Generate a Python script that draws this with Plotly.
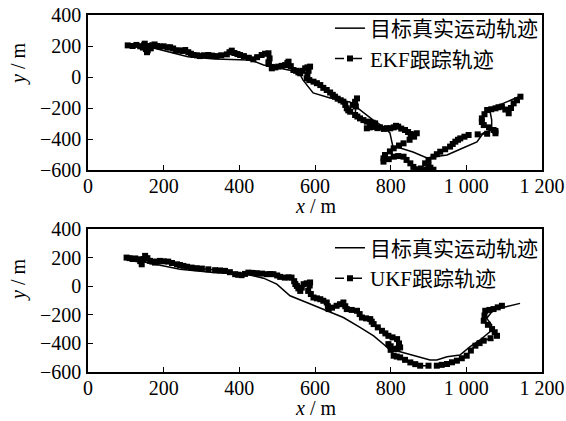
import plotly.graph_objects as go
from plotly.subplots import make_subplots

# ---------------- data ----------------
true_top_x = [100, 141, 160, 200, 264, 335, 423, 437, 464, 508, 552, 562, 568, 595, 640, 692, 719, 753, 780,
              798, 806, 825, 859, 896, 912, 949, 991, 1028, 1045, 1067, 1067, 1063, 1076, 1137]
true_top_y = [202, 211, 195, 170, 131, 116, 110, 103, 77, 56, 34, 10, -19, -103, -135, -161, -213, -277, -320,
              -361, -451, -458, -484, -522, -516, -503, -458, -419, -361, -342, -277, -225, -193, -129]

ekf_x = [105, 118, 128, 138, 145, 148, 150, 153, 156, 158, 160, 163, 166, 170, 176, 183, 190, 200, 210, 217,
         225, 232, 240, 250, 257, 265, 272, 279, 288, 296, 306, 318, 328, 340, 352, 367, 374, 380, 387, 395,
         402, 412, 425, 437, 447, 459, 468, 477, 480, 477, 478, 486, 486, 495, 503, 512, 521, 527, 530, 536,
         543, 550, 556, 561, 566, 574, 580, 587, 583, 580, 578, 585, 596, 605, 614, 622, 631, 640, 647, 653,
         660, 668, 675, 680, 684, 688, 693, 700, 706, 711, 708, 706, 712, 719, 728, 737, 745, 752, 759, 750,
         737, 745, 755, 765, 772, 782, 790, 799, 808, 814, 820, 828, 838, 846, 853, 860, 869, 862, 850, 834,
         822, 808, 798, 785, 781, 781, 795, 808, 820, 834, 842, 852, 860, 869, 880, 896, 905, 913, 900, 891,
         900, 913, 922, 931, 944, 957, 964, 971, 978, 984, 995, 1006, 1030, 1055, 1077, 1077, 1072, 1060, 1046, 1041,
         1041, 1048, 1055, 1066, 1077, 1085, 1094, 1103, 1112, 1118, 1125, 1134, 1143]
ekf_y = [204, 200, 207, 198, 190, 205, 215, 180, 160, 172, 192, 200, 185, 205, 210, 200, 196, 198, 190, 192,
         184, 170, 172, 168, 174, 160, 150, 142, 140, 135, 140, 142, 138, 135, 140, 146, 160, 170, 155, 148,
         142, 135, 124, 114, 128, 142, 150, 153, 120, 95, 84, 65, 56, 62, 67, 72, 77, 90, 99, 70,
         45, 40, 30, 24, 40, 56, 62, 67, 40, 15, -9, -20, -30, -40, -52, -70, -84, -100, -115, -127,
         -140, -150, -159, -180, -202, -215, -224, -180, -160, -138, -190, -245, -255, -267, -278, -288, -290, -295, -299, -315,
         -331, -325, -322, -330, -325, -335, -330, -331, -325, -315, -320, -333, -342, -355, -368, -374, -363, -385, -405, -428,
         -442, -460, -480, -503, -525, -546, -530, -514, -510, -514, -535, -557, -580, -595, -590, -598, -585, -598, -570, -557,
         -535, -514, -498, -482, -466, -449, -432, -417, -405, -396, -385, -374, -370, -366, -363, -348, -342, -325, -310, -290,
         -267, -240, -213, -208, -202, -195, -191, -210, -234, -200, -170, -150, -127]

true_bot_x = [100, 155, 243, 331, 420, 464, 499, 534, 578, 622, 675, 719, 755, 786, 798, 825, 859, 904, 922,
              949, 983, 1010, 1036, 1063, 1067, 1054, 1071, 1142]
true_bot_y = [200, 165, 119, 95, 84, 56, 14, -67, -114, -160, -219, -288, -347, -416, -446, -458, -481, -516, -516,
              -493, -481, -423, -376, -318, -271, -225, -166, -120]

ukf_x = [102, 110, 118, 125, 133, 138, 142, 147, 151, 157, 164, 170, 177, 184, 190, 200, 212, 222, 235, 243,
         252, 262, 274, 287, 301, 318, 336, 349, 362, 375, 389, 397, 406, 415, 424, 435, 446, 460, 473, 482,
         490, 500, 508, 520, 530, 538, 545, 548, 552, 556, 561, 565, 570, 578, 587, 586, 582, 589, 596, 605,
         614, 622, 631, 634, 636, 645, 657, 666, 675, 680, 684, 697, 711, 718, 724, 735, 746, 750, 755, 766,
         777, 786, 794, 805, 817, 822, 825, 818, 812, 800, 794, 800, 808, 816, 825, 838, 852, 865, 878, 900,
         922, 935, 949, 962, 975, 988, 1001, 1012, 1024, 1035, 1046, 1064, 1081, 1075, 1068, 1057, 1046, 1048, 1050, 1061,
         1072, 1083, 1094]
ukf_y = [200, 196, 190, 194, 188, 175, 153, 190, 212, 196, 177, 172, 165, 172, 177, 174, 172, 162, 153, 148,
         142, 136, 130, 126, 123, 118, 112, 110, 107, 98, 84, 80, 77, 86, 95, 93, 91, 88, 84, 85,
         84, 75, 65, 60, 62, 60, 35, 15, 2, -15, -33, -10, 14, 20, 26, 5, -33, -55, -79, -85,
         -91, -102, -114, -140, -160, -150, -137, -126, -114, -140, -160, -166, -172, -195, -219, -225, -230, -248, -265, -288,
         -312, -330, -347, -358, -370, -400, -428, -436, -440, -420, -405, -445, -486, -492, -498, -515, -533, -545, -556, -556,
         -556, -550, -544, -532, -521, -504, -486, -450, -416, -398, -381, -364, -347, -322, -300, -270, -242, -205, -172, -166,
         -160, -148, -137]

x_tickvals = [0, 200, 400, 600, 800, 1000, 1200]
x_ticktext = ["0", "200", "400", "600", "800", "1 000", "1 200"]
y_tickvals = [400, 200, 0, -200, -400, -600]
y_ticktext = ["400", "200", "0", "\u2212200", "\u2212400", "\u2212600"]

true_name = "目标真实运动轨迹"
ekf_name = "EKF跟踪轨迹"
ukf_name = "UKF跟踪轨迹"
x_title = "<i>x</i> / m"
y_title = "<i>y</i> / m"

# ---------------- figure ----------------
FONT = "Liberation Serif, Times New Roman, Noto Sans CJK SC, serif"
fig = make_subplots(rows=2, cols=1, vertical_spacing=0.0)

line_true = dict(color="black", width=1.5)
line_est = dict(color="black", width=1.5, dash="dash")
mk = dict(symbol="square", size=6, color="black")

fig.add_trace(go.Scatter(x=true_top_x, y=true_top_y, mode="lines", line=line_true,
                         name=true_name, legend="legend"), row=1, col=1)
fig.add_trace(go.Scatter(x=ekf_x, y=ekf_y, mode="lines+markers", line=line_est, marker=mk,
                         name=ekf_name, legend="legend"), row=1, col=1)
fig.add_trace(go.Scatter(x=true_bot_x, y=true_bot_y, mode="lines", line=line_true,
                         name=true_name, legend="legend2"), row=2, col=1)
fig.add_trace(go.Scatter(x=ukf_x, y=ukf_y, mode="lines+markers", line=line_est, marker=mk,
                         name=ukf_name, legend="legend2"), row=2, col=1)

axis_common = dict(showline=True, linecolor="black", linewidth=1.5, mirror=True,
                   ticks="inside", ticklen=5, tickwidth=1.2, tickcolor="black",
                   showgrid=False, zeroline=False, automargin=False, tickangle=0,
                   tickfont=dict(family=FONT, size=20, color="black"))

for r in (1, 2):
    fig.update_xaxes(range=[0, 1200], tickvals=x_tickvals, ticktext=x_ticktext,
                     ticklabelstandoff=-3, row=r, col=1, **axis_common)
    fig.update_yaxes(range=[-600, 400], tickvals=y_tickvals, ticktext=y_ticktext,
                     ticklabelstandoff=1, row=r, col=1, **axis_common)

tfont = dict(family=FONT, size=20, color="black")
for (xx, yy) in [(0.5, 0.4650), (0.5, -0.1008)]:
    fig.add_annotation(text=x_title, xref="paper", yref="paper", x=xx, y=yy,
                       xanchor="center", yanchor="middle", showarrow=False, font=tfont)
for (xx, yy) in [(-0.1542, 0.8627), (-0.1542, 0.2577)]:
    fig.add_annotation(text=y_title, xref="paper", yref="paper", x=xx, y=yy, textangle=-90,
                       xanchor="center", yanchor="middle", showarrow=False, font=tfont)

lfont = dict(family=FONT, size=21, color="black")
fig.update_layout(
    width=566, height=421,
    margin=dict(l=88, r=24, t=15, b=49, autoexpand=False),
    paper_bgcolor="white", plot_bgcolor="white",
    font=dict(family=FONT, size=20, color="black"),
    yaxis=dict(domain=[0.5658, 1.0]),
    yaxis2=dict(domain=[0.0, 0.4006]),
    legend=dict(x=0.533, xanchor="left", y=1.0196, yanchor="top",
                bgcolor="rgba(0,0,0,0)", font=lfont, tracegroupgap=0, itemwidth=30),
    legend2=dict(x=0.533, xanchor="left", y=0.4042, yanchor="top",
                 bgcolor="rgba(0,0,0,0)", font=lfont, tracegroupgap=0, itemwidth=30),
    showlegend=True,
)

fig.write_html("out.html", config={"displayModeBar": False},
               post_script="document.body.style.margin='0';document.body.style.overflow='hidden';")
